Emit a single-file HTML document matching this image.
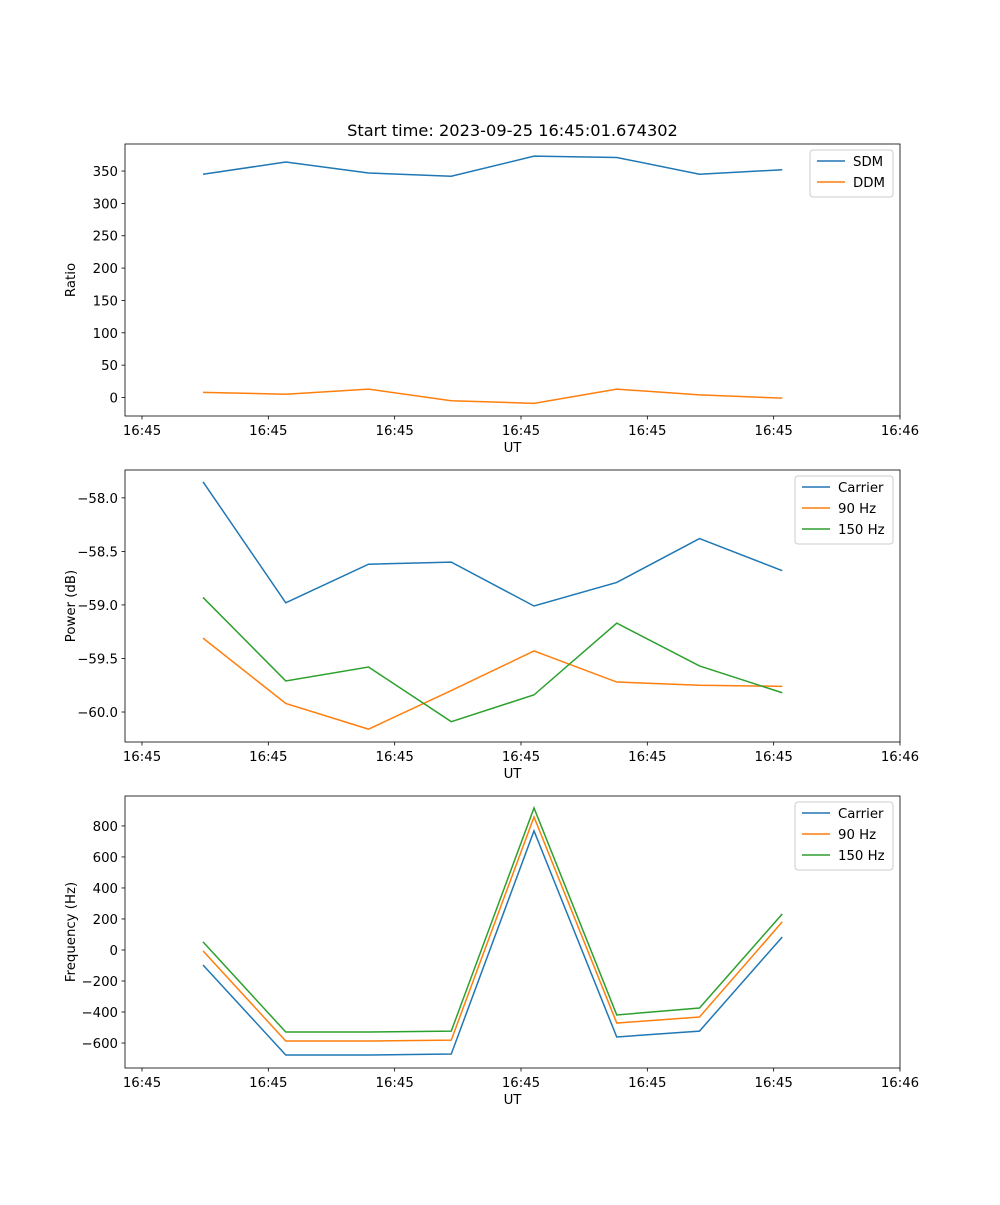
<!DOCTYPE html>
<html><head><meta charset="utf-8"><style>
body{margin:0;background:#fff;}
svg text{font-family:"DejaVu Sans","Liberation Sans",sans-serif;fill:#000;}
</style></head><body>
<svg id="fig" width="1000" height="1200" xmlns="http://www.w3.org/2000/svg">
<rect width="1000" height="1200" fill="#fff"/>
<text x="512.5" y="136" font-size="16.2" text-anchor="middle">Start time: 2023-09-25 16:45:01.674302</text>
</svg>
<script>
const xTickLabels = ["16:45","16:45","16:45","16:45","16:45","16:45","16:46"];
const sampleTimes = [0.483,1.138,1.793,2.448,3.103,3.758,4.413,5.068];
const sdm = [345,364,347,342,373,371,345,352];
const ddm = [8,5,13,-5,-9,13,4,-1];
const powCarrier = [-57.85,-58.98,-58.62,-58.60,-59.01,-58.79,-58.38,-58.68];
const pow90 = [-59.31,-59.92,-60.16,-59.80,-59.43,-59.72,-59.75,-59.76];
const pow150 = [-58.93,-59.71,-59.58,-60.09,-59.84,-59.17,-59.57,-59.82];
const freqCarrier = [-97,-677,-677,-671,768,-561,-523,84];
const freq90 = [-6,-587,-587,-581,858,-471,-432,181];
const freq150 = [52,-529,-529,-523,916,-419,-374,232];
const ratioTicks = [0,50,100,150,200,250,300,350];
const powerTicks = [-60.0,-59.5,-59.0,-58.5,-58.0];
const freqTicks = [-600,-400,-200,0,200,400,600,800];

const NS="http://www.w3.org/2000/svg";
const svg=document.getElementById('fig');
const C1="#1f77b4",C2="#ff7f0e",C3="#2ca02c";
const FS=13.3;
function mk(tag,attrs,parent){const e=document.createElementNS(NS,tag);for(const k in attrs)e.setAttribute(k,attrs[k]);(parent||svg).appendChild(e);return e;}
const L=125,R=900;
const xs=t=>142+t*126.33;
function panel(name,top,bot,ymin,ymax,ticks,fmt,ylabel,series,legend){
  const g=mk('g',{});
  
  
  const ys=v=>bot-(v-ymin)/(ymax-ymin)*(bot-top);
  ticks.forEach(v=>{const y=ys(v);
    mk('line',{x1:L-3.5,x2:L,y1:y,y2:y,stroke:'#000','stroke-width':0.8},g);
    const t=mk('text',{x:L-7,y:y+5,'font-size':FS,'text-anchor':'end'},g);t.textContent=fmt(v);
    
    });
  xTickLabels.forEach((lab,i)=>{const x=xs(i);
    mk('line',{x1:x,x2:x,y1:bot,y2:bot+3.5,stroke:'#000','stroke-width':0.8},g);
    const t=mk('text',{x:x,y:bot+19,'font-size':FS,'text-anchor':'middle'},g);t.textContent=lab;
    
    });
  const xl=mk('text',{x:(L+R)/2,y:bot+36,'font-size':FS,'text-anchor':'middle'},g);xl.textContent='UT';
  
  
  const cy=(top+bot)/2;
  const yl=mk('text',{x:0,y:0,'font-size':FS,'text-anchor':'middle',transform:`translate(${L-50},${cy}) rotate(-90)`},g);yl.textContent=ylabel;
  
  
  series.forEach(s=>{
    const p=mk('polyline',{points:s.data.map((v,i)=>xs(sampleTimes[i])+','+ys(v)).join(' '),fill:'none',stroke:s.c,'stroke-width':1.5},g);
    
    
  });
  mk('rect',{x:L,y:top,width:R-L,height:bot-top,fill:'none',stroke:'#000','stroke-width':0.8},g);
  const lg=mk('g',{},g);
  
  
  mk('rect',{x:legend.x,y:top+6,width:legend.w,height:series.length*21+5,rx:3,fill:'#fff',stroke:'#ccc','stroke-width':1},lg);
  series.forEach((s,i)=>{const y=top+17+i*21;
    mk('line',{x1:legend.x+7,x2:legend.x+35,y1:y,y2:y,stroke:s.c,'stroke-width':1.5},lg);
    const t=mk('text',{x:legend.x+43,y:y+5,'font-size':FS},lg);t.textContent=s.n;
    
    });
}
panel('ratio',144,416,-28.6,391.8,ratioTicks,v=>String(v),'Ratio',[{n:'SDM',data:sdm,c:C1},{n:'DDM',data:ddm,c:C2}],{x:810,w:83});
panel('power',470,742,-60.28,-57.74,powerTicks,v=>v.toFixed(1).replace('-','\u2212'),'Power (dB)',[{n:'Carrier',data:powCarrier,c:C1},{n:'90 Hz',data:pow90,c:C2},{n:'150 Hz',data:pow150,c:C3}],{x:795,w:98});
panel('frequency',796,1068,-761,993,freqTicks,v=>String(v).replace('-','\u2212'),'Frequency (Hz)',[{n:'Carrier',data:freqCarrier,c:C1},{n:'90 Hz',data:freq90,c:C2},{n:'150 Hz',data:freq150,c:C3}],{x:795,w:98});
</script>
</body></html>
